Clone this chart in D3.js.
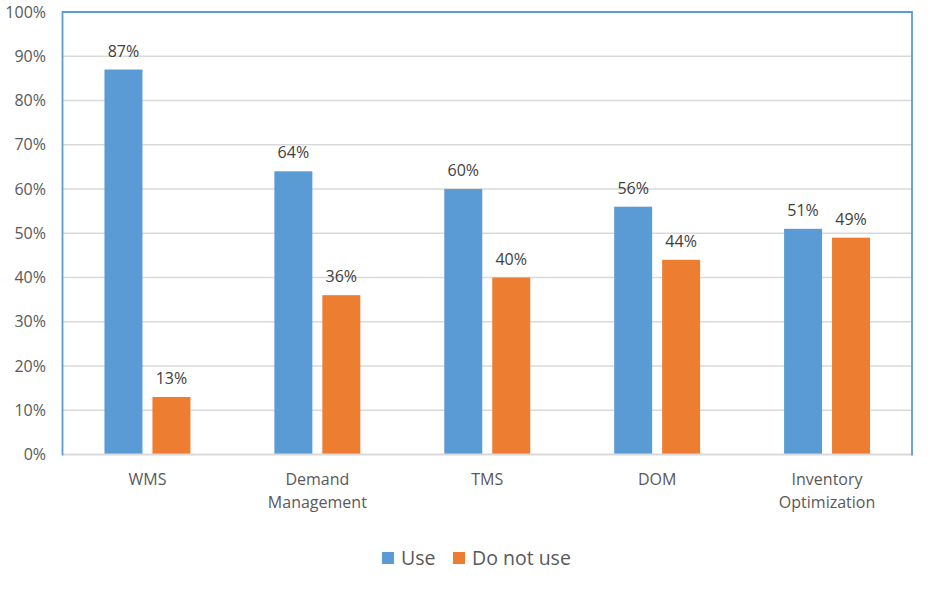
<!DOCTYPE html>
<html>
<head>
<meta charset="utf-8">
<script src="https://cdn.jsdelivr.net/npm/d3@7"></script>
<style>
  body { margin: 0; background: #fff; }
  svg { display: block; font-family: "Open Sans", sans-serif; }
</style>
</head>
<body>
<svg id="chart" width="945" height="590"></svg>
<script>
const categories = [["WMS"], ["Demand", "Management"], ["TMS"], ["DOM"], ["Inventory", "Optimization"]];
const seriesNames = ["Use", "Do not use"];
const useValues = [0.87, 0.64, 0.60, 0.56, 0.51];
const notUseValues = [0.13, 0.36, 0.40, 0.44, 0.49];
const yTicks = [0, 0.1, 0.2, 0.3, 0.4, 0.5, 0.6, 0.7, 0.8, 0.9, 1.0];
const colors = ["#5b9bd5", "#ed7d31"];

(function () {
const svg = d3.select("#chart");
const pLeft = 62.5, pRight = 912, pTop = 12, pBottom = 454.5;
const catKeys = categories.map(c => c.join(" "));
const x = d3.scaleBand().domain(catKeys).range([pLeft, pRight]).padding(0);
const xs = d3.scaleBand().domain(seriesNames).range([0, x.bandwidth()])
  .paddingInner(10 / 48).paddingOuter(0.875);
const y = d3.scaleLinear().domain([0, 1]).range([pBottom, pTop]);
const textColor = "#595959";

// gridlines
svg.append("g").selectAll("line").data(yTicks.filter(t => t > 0 && t < 1)).join("line")
  .attr("x1", pLeft).attr("x2", pRight)
  .attr("y1", d => y(d)).attr("y2", d => y(d))
  .attr("stroke", "#d9d9d9").attr("stroke-width", 1.5);

// y axis labels
const yAxis = d3.axisLeft(y).tickValues(yTicks).tickFormat(d3.format(".0%")).tickSize(0).tickPadding(0);
const gy = svg.append("g").attr("transform", `translate(46,0)`).call(yAxis);
gy.select(".domain").remove();
gy.selectAll("text").attr("fill", textColor).style("font-size", "16px")
  .style("font-family", "'Open Sans', sans-serif");

// data
const data = catKeys.map((k, i) => ({ key: k, values: [useValues[i], notUseValues[i]] }));
const groups = svg.append("g").selectAll("g").data(data).join("g")
  .attr("transform", d => `translate(${x(d.key)},0)`);
groups.selectAll("rect").data(d => d.values.map((v, j) => ({ s: seriesNames[j], v, j }))).join("rect")
  .attr("x", d => xs(d.s)).attr("width", xs.bandwidth())
  .attr("y", d => y(d.v)).attr("height", d => y(0) - y(d.v))
  .attr("fill", d => colors[d.j]);
groups.selectAll("text.lbl").data(d => d.values.map((v, j) => ({ s: seriesNames[j], v, j }))).join("text")
  .attr("class", "lbl")
  .attr("x", d => xs(d.s) + xs.bandwidth() / 2)
  .attr("y", d => y(d.v) - 13)
  .attr("text-anchor", "middle").attr("fill", "#404040")
  .style("font-size", "16px")
  .text(d => d3.format(".0%")(d.v));

// bottom axis line
svg.append("line").attr("x1", pLeft).attr("x2", pRight).attr("y1", pBottom).attr("y2", pBottom)
  .attr("stroke", "#d9d9d9").attr("stroke-width", 2);

// plot border (left, top, right)
svg.append("path")
  .attr("d", `M${pLeft},${pBottom + 1}V${pTop}H${pRight}V${pBottom + 1}`)
  .attr("fill", "none").attr("stroke", "#5b9bd5").attr("stroke-width", 1.8);

// category labels
const cat = svg.append("g").selectAll("text").data(categories).join("text")
  .attr("x", (d, i) => x(catKeys[i]) + x.bandwidth() / 2)
  .attr("y", 485)
  .attr("text-anchor", "middle").attr("fill", textColor)
  .style("font-size", "16px");
cat.selectAll("tspan").data(d => d).join("tspan")
  .attr("x", function () { return d3.select(this.parentNode).attr("x"); })
  .attr("dy", (d, i) => i === 0 ? 0 : 22.5)
  .text(d => d);

// legend
const legendX = [382, 453];
const leg = svg.append("g").selectAll("g").data(seriesNames).join("g")
  .attr("transform", (d, i) => `translate(${legendX[i]},552)`);
leg.append("rect").attr("width", 12).attr("height", 12).attr("fill", (d, i) => colors[i]);
leg.append("text").attr("x", 19).attr("y", 12.5).attr("fill", textColor)
  .style("font-size", "19.5px").text(d => d);
})();
</script>
</body>
</html>
